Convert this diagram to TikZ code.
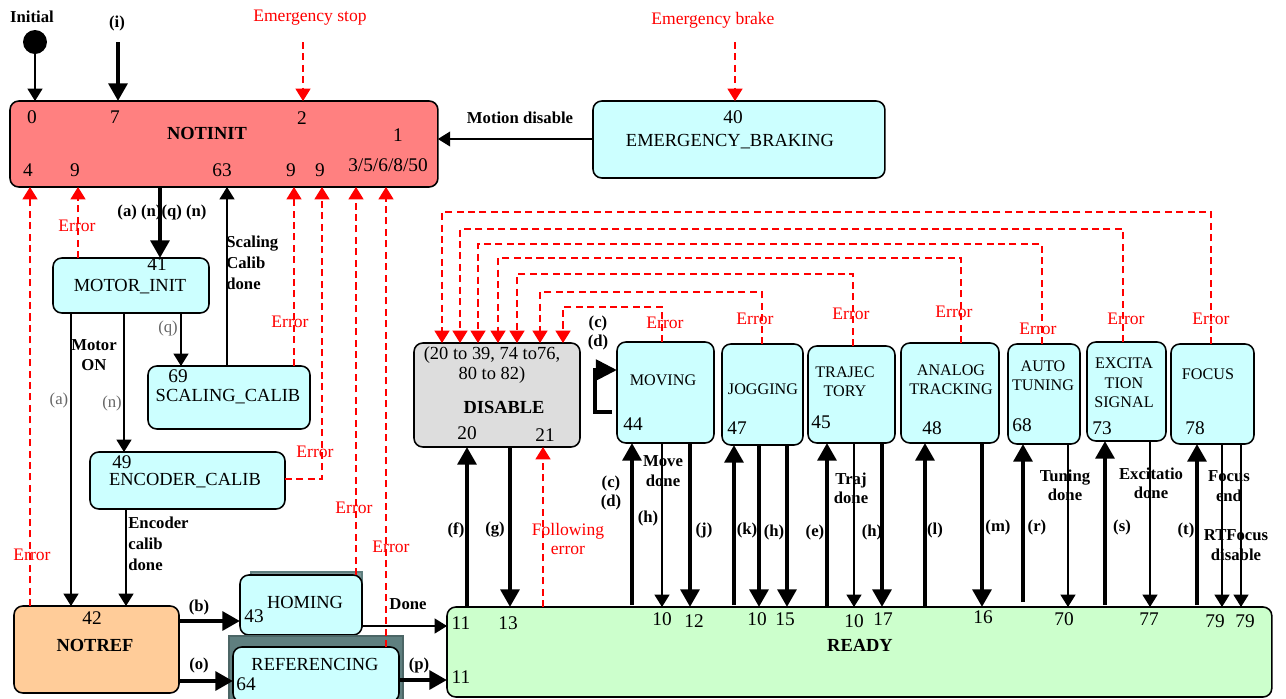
\documentclass[tikz,border=0pt]{standalone}
\usepackage{fontspec}
\setmainfont{Liberation Serif}
\usetikzlibrary{arrows.meta}
\definecolor{notinitc}{HTML}{FF8080}
\definecolor{modc}{HTML}{CCFFFF}
\definecolor{notrefc}{HTML}{FFCC99}
\definecolor{readyc}{HTML}{CCFFCC}
\definecolor{disablec}{HTML}{DDDDDD}
\definecolor{shadowc}{HTML}{5F7F7F}
\definecolor{errc}{HTML}{FF0000}
\tikzset{
  box/.style={draw=black,line width=0.9pt,rounded corners=5pt,fill=modc,
              anchor=north west,inner sep=0pt,outer sep=0pt},
  num/.style={font=\fontsize{11}{12}\selectfont,inner sep=0pt},
  nm/.style={font=\fontsize{10.5}{11}\selectfont,inner sep=0pt,align=center},
  snm/.style={nm,font=\fontsize{9.2}{11}\selectfont},
  bnm/.style={font=\fontsize{10.5}{12}\selectfont\bfseries,inner sep=0pt},
  lbl/.style={font=\fontsize{9.5}{11}\selectfont\bfseries,inner sep=0pt,align=center},
  glbl/.style={font=\fontsize{9.5}{11}\selectfont,text=black!60,inner sep=0pt},
  elbl/.style={font=\fontsize{10}{11}\selectfont,text=errc,inner sep=0pt,align=center},
  thn/.style={line width=0.7pt,-{Triangle[length=7pt,width=8.5pt]}},
  thk/.style={line width=2.6pt,-{Triangle[length=10pt,width=10.5pt]}},
  err/.style={errc,line width=0.8pt,dash pattern=on 4pt off 2.5pt,
              -{Triangle[length=7pt,width=8.5pt]}}
}
\begin{document}
\begin{tikzpicture}[x=0.02cm,y=-0.02cm]
  \useasboundingbox (0,0) rectangle (1286,698);
  % states
  \node[box,fill=notinitc,minimum width=8.56cm,minimum height=1.72cm] (notinit) at (10,101) {};
  \node[box,minimum width=5.84cm,minimum height=1.54cm] (ebrake) at (593,101) {};
  \node[box,minimum width=3.12cm,minimum height=1.10cm] (motorinit) at (53,258) {};
  \node[box,minimum width=3.24cm,minimum height=1.26cm] (scaling) at (148,366) {};
  \node[box,minimum width=3.90cm,minimum height=1.14cm] (encoder) at (90,452) {};
  \node[box,fill=notrefc,minimum width=3.30cm,minimum height=1.74cm] (notref) at (14,606) {};
  \node[box,fill=shadowc!80,draw=shadowc,rounded corners=0pt,minimum width=2.22cm,minimum height=1.10cm] (homingsh) at (251,572) {};
  \node[box,minimum width=2.44cm,minimum height=1.20cm] (homing) at (240,575) {};
  \node[box,fill=shadowc,draw=shadowc!80!black,rounded corners=0pt,minimum width=3.48cm,minimum height=1.30cm] (refsh) at (229,636) {};
  \node[box,minimum width=3.32cm,minimum height=1.10cm] (refin) at (233,647) {};
  \node[box,fill=readyc,minimum width=16.5cm,minimum height=1.80cm] (ready) at (447,607) {};
  \node[box,fill=disablec,minimum width=3.32cm,minimum height=2.08cm] (disable) at (414,343) {};
  \node[box,minimum width=1.94cm,minimum height=2.02cm] (moving) at (617,342) {};
  \node[box,minimum width=1.62cm,minimum height=2.02cm] (jogging) at (722,344) {};
  \node[box,minimum width=1.74cm,minimum height=1.94cm] (traj) at (808,346) {};
  \node[box,minimum width=1.96cm,minimum height=2.00cm] (analog) at (901,343) {};
  \node[box,minimum width=1.44cm,minimum height=2.00cm] (autotun) at (1008,344) {};
  \node[box,minimum width=1.58cm,minimum height=1.98cm] (excit) at (1087,342) {};
  \node[box,minimum width=1.66cm,minimum height=2.00cm] (focus) at (1171,344) {};
  \node[circle,fill=black,minimum size=0.48cm,inner sep=0pt] (init) at (35,42) {};

  % texts in the states
  \node[bnm] (notinit-t) at (207,133) {NOTINIT};
  \node[num] (ni0) at (32,117) {0}; \node[num] (ni7) at (115,117) {7};
  \node[num] (ni2) at (302,118) {2}; \node[num] (ni1) at (398,135) {1};
  \node[num] (ni4) at (28,170) {4}; \node[num] (ni9a) at (75,170) {9};
  \node[num] (ni63) at (222,170) {63}; \node[num] (ni9b) at (291,170) {9};
  \node[num] (ni9c) at (320,170) {9}; \node[num] (ni3) at (388,165) {3/5/6/8/50};
  \node[num] (eb40) at (733,117) {40};
  \node[nm] (ebrake-t) at (730,142) {EMERGENCY\_BRAKING};
  \node[num] (mi41) at (157,264) {41};
  \node[nm] (motorinit-t) at (130,287) {MOTOR\_INIT};
  \node[num] (sc69) at (178,376) {69};
  \node[nm] (scaling-t) at (228,397) {SCALING\_CALIB};
  \node[num] (en49) at (122,462) {49};
  \node[nm] (encoder-t) at (185,481) {ENCODER\_CALIB};
  \node[num] (nr42) at (92,618) {42};
  \node[bnm] (notref-t) at (95,645) {NOTREF};
  \node[nm] (homing-t) at (305,602) {HOMING};
  \node[num] (ho43) at (254,616) {43};
  \node[nm] (refin-t) at (315,664) {REFERENCING};
  \node[num] (re64) at (246,684) {64};
  \node[nm] (disable-r) at (492,365) {(20 to 39, 74 to76,\\80 to 82)};
  \node[bnm] (disable-t) at (504,407) {DISABLE};
  \node[num] (di20) at (467,433) {20}; \node[num] (di21) at (545,435) {21};
  \node[snm] (moving-t) at (663,380) {MOVING}; \node[num] (mo44) at (633,424) {44};
  \node[snm] (jogging-t) at (763,389) {JOGGING}; \node[num] (jo47) at (737,428) {47};
  \node[snm] (traj-t) at (845,382) {TRAJEC\\TORY}; \node[num] (tr45) at (821,422) {45};
  \node[snm] (analog-t) at (951,380) {ANALOG\\TRACKING}; \node[num] (an48) at (932,428) {48};
  \node[snm] (autotun-t) at (1043,376) {AUTO\\TUNING}; \node[num] (au68) at (1022,425) {68};
  \node[snm] (excit-t) at (1124,383) {EXCITA\\TION\\SIGNAL}; \node[num] (ex73) at (1102,428) {73};
  \node[snm] (focus-t) at (1208,374) {FOCUS}; \node[num] (fo78) at (1195,428) {78};
  \node[bnm] (ready-t) at (860,645) {READY};
  \node[num] (rd11a) at (461,623) {11}; \node[num] (rd13) at (508,623) {13};
  \node[num] (rd10a) at (662,619) {10}; \node[num] (rd12) at (694,621) {12};
  \node[num] (rd10b) at (757,619) {10}; \node[num] (rd15) at (785,619) {15};
  \node[num] (rd10c) at (854,621) {10}; \node[num] (rd17) at (883,619) {17};
  \node[num] (rd16) at (983,617) {16}; \node[num] (rd70) at (1064,619) {70};
  \node[num] (rd77) at (1149,619) {77}; \node[num] (rd79a) at (1215,621) {79};
  \node[num] (rd79b) at (1245,621) {79}; \node[num] (rd11b) at (461,677) {11};

  % entries at the top
  \node[lbl] (init-t) at (32,17) {Initial};
  \draw[thn] (init) -- (init |- notinit.north);
  \node[lbl] (i-t) at (117,23) {(i)};
  \coordinate (i-in) at (118,42);
  \draw[thk] (i-in) -- (i-in |- notinit.north);
  \node[elbl] (estop) at (310,18) {Emergency stop};
  \coordinate (estop-in) at (303,42);
  \draw[err] (estop-in) -- (estop-in |- notinit.north);
  \node[elbl] (ebr) at (713,20) {Emergency brake};
  \coordinate (ebr-in) at (735,42);
  \draw[err] (ebr-in) -- (ebr-in |- ebrake.north);
  \draw[thn] (ebrake.west |- 0,139) -- (notinit.east |- 0,139);
  \node[lbl] (motdis) at (520,118) {Motion disable};

  % init sequence
  \draw[thk] (160,0 |- notinit.south) -- (160,0 |- motorinit.north);
  \node[lbl] (aqn) at (162,212) {(a) (n)(q) (n)};
  \draw[thn] (181,0 |- motorinit.south) -- (181,0 |- scaling.north);
  \node[glbl] (q-t) at (168,328) {(q)};
  \draw[thn] (124,0 |- motorinit.south) -- (124,0 |- encoder.north);
  \node[glbl] (n-t) at (112,403) {(n)};
  \draw[thn] (71,0 |- motorinit.south) -- (71,0 |- notref.north);
  \node[glbl] (a-t) at (59,400) {(a)};
  \node[lbl] (motoron) at (94,355) {Motor\\ON};
  \draw[thn] (227,0 |- scaling.north) -- (227,0 |- notinit.south);
  \node[lbl,anchor=west,align=left] (scdone) at (226,263) {Scaling\\[1pt]Calib\\[1pt]done};
  \draw[thn] (126,0 |- encoder.south) -- (126,0 |- notref.north);
  \node[lbl,anchor=west,align=left] (endone) at (128,544) {Encoder\\[1pt]calib\\[1pt]done};

  % errors back to NOTINIT
  \draw[err] (78,0 |- motorinit.north) -- (78,0 |- notinit.south);
  \draw[err] (294,0 |- scaling.north) -- (294,0 |- notinit.south);
  \draw[err] (encoder.east |- 0,479) -| (322,0 |- notinit.south);
  \draw[err] (30,0 |- notref.north) -- (30,0 |- notinit.south);
  \draw[err] (356,0 |- homing.north) -- (356,0 |- notinit.south);
  \draw[err] (386,0 |- refin.north) -- (386,0 |- notinit.south);
  \node[elbl] (er1) at (77,226) {Error};
  \node[elbl] (er2) at (290,322) {Error};
  \node[elbl] (er3) at (315,452) {Error};
  \node[elbl] (er4) at (32,555) {Error};
  \node[elbl] (er5) at (354,508) {Error};
  \node[elbl] (er6) at (391,547) {Error};

  % referencing
  \draw[thk] (notref.east |- 0,621) -- (homing.west |- 0,621);
  \node[lbl] (b-t) at (199,607) {(b)};
  \draw[thk] (notref.east |- 0,681) -- (refin.west |- 0,681);
  \node[lbl] (o-t) at (199,665) {(o)};
  \draw[thn] (homing.east |- 0,626) -- (ready.west |- 0,626);
  \node[lbl] (done-t) at (408,604) {Done};
  \draw[thk] (refin.east |- 0,680) -- (ready.west |- 0,680);
  \node[lbl] (p-t) at (419,665) {(p)};

  % READY <-> DISABLE
  \draw[thk] (467,0 |- ready.north) -- (467,0 |- disable.south);
  \node[lbl] (f-t) at (456,530) {(f)};
  \draw[thk] (510,0 |- disable.south) -- (510,0 |- ready.north);
  \node[lbl] (g-t) at (495,530) {(g)};
  \draw[err] (543,0 |- ready.north) -- (543,0 |- disable.south);
  \node[elbl] (follow) at (568,539) {Following\\error};

  % READY <-> motion states
  \draw[thk] (632,605) -- (632,0 |- moving.south);
  \node[lbl] (cd-t) at (611,493) {(c)\\(d)};
  \draw[thn] (662,0 |- moving.south) -- (662,0 |- ready.north);
  \node[lbl] (movedone) at (663,471) {Move\\done};
  \node[lbl] (h1-t) at (648,518) {(h)};
  \draw[thk] (690,0 |- moving.south) -- (690,0 |- ready.north);
  \node[lbl] (j-t) at (704,530) {(j)};
  \draw[thk,-{Triangle[length=12pt,width=11.5pt]}] (612,412) -- ++(-17,0) |- (moving.west |- 0,370);
  \node[lbl] (cd2-t) at (598,333) {(c)\\(d)};

  \draw[thk] (734,605) -- (734,0 |- jogging.south);
  \draw[thk] (759,0 |- jogging.south) -- (759,0 |- ready.north);
  \node[lbl] (k-t) at (747,530) {(k)};
  \draw[thk] (787,0 |- jogging.south) -- (787,0 |- ready.north);
  \node[lbl] (h2-t) at (774,532) {(h)};

  \draw[thk] (827,0 |- ready.north) -- (827,0 |- traj.south);
  \node[lbl] (e-t) at (815,532) {(e)};
  \draw[thn] (854,0 |- traj.south) -- (854,0 |- ready.north);
  \node[lbl] (trajdone) at (851,488) {Traj\\done};
  \draw[thk] (882,0 |- traj.south) -- (882,0 |- ready.north);
  \node[lbl] (h3-t) at (872,532) {(h)};

  \draw[thk] (925,0 |- ready.north) -- (925,0 |- analog.south);
  \node[lbl] (l-t) at (935,530) {(l)};
  \draw[thk] (982,0 |- analog.south) -- (982,0 |- ready.north);
  \node[lbl] (m-t) at (998,527) {(m)};

  \draw[thk] (1023,602) -- (1023,0 |- autotun.south);
  \node[lbl] (r-t) at (1037,527) {(r)};
  \draw[thn] (1068,0 |- autotun.south) -- (1068,0 |- ready.north);
  \node[lbl] (tundone) at (1065,485) {Tuning\\done};

  \draw[thk] (1105,605) -- (1105,0 |- excit.south);
  \node[lbl] (s-t) at (1122,527) {(s)};
  \draw[thn] (1150,0 |- excit.south) -- (1150,0 |- ready.north);
  \node[lbl] (exdone) at (1151,483) {Excitatio\\done};

  \draw[thk] (1197,605) -- (1197,0 |- focus.south);
  \node[lbl] (t-t) at (1186,530) {(t)};
  \draw[thn] (1222,0 |- focus.south) -- (1222,0 |- ready.north);
  \draw[thn] (1241,0 |- focus.south) -- (1241,0 |- ready.north);
  \node[lbl] (focend) at (1229,486) {Focus\\end};
  \node[lbl] (rtfoc) at (1236,545) {RTFocus\\disable};

  % errors back to DISABLE
  \draw[err] (1211,0 |- focus.north) -- (1211,212) -| (442,0 |- disable.north);
  \draw[err] (1123,0 |- excit.north) -- (1123,229) -| (460,0 |- disable.north);
  \draw[err] (1042,0 |- autotun.north) -- (1042,244) -| (478,0 |- disable.north);
  \draw[err] (961,0 |- analog.north) -- (961,258) -| (498,0 |- disable.north);
  \draw[err] (853,0 |- traj.north) -- (853,274) -| (517,0 |- disable.north);
  \draw[err] (762,0 |- jogging.north) -- (762,292) -| (540,0 |- disable.north);
  \draw[err] (662,0 |- moving.north) -- (662,307) -| (563,0 |- disable.north);
  \node[elbl] (em1) at (665,323) {Error};
  \node[elbl] (em2) at (755,319) {Error};
  \node[elbl] (em3) at (851,314) {Error};
  \node[elbl] (em4) at (954,312) {Error};
  \node[elbl] (em5) at (1038,329) {Error};
  \node[elbl] (em6) at (1126,319) {Error};
  \node[elbl] (em7) at (1211,319) {Error};
\end{tikzpicture}
\end{document}
